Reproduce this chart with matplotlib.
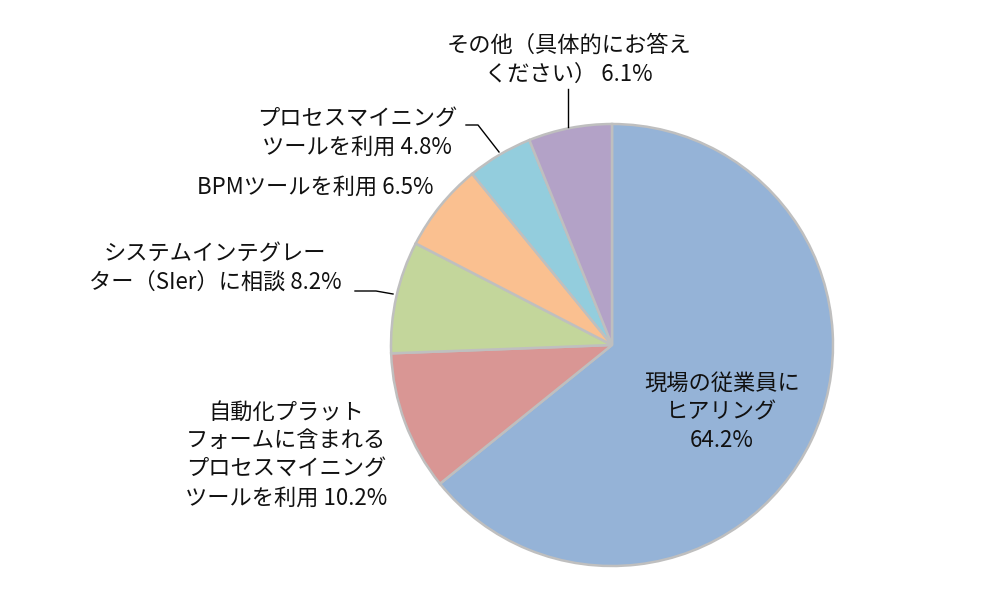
import matplotlib
matplotlib.use("Agg")
import matplotlib.pyplot as plt

plt.rcParams['font.family'] = ['Noto Sans CJK JP', 'DejaVu Sans']

labels = ["現場の従業員に\nヒアリング",
          "自動化プラット\nフォームに含まれる\nプロセスマイニング\nツールを利用",
          "システムインテグレー\nター（SIer）に相談",
          "BPMツールを利用",
          "プロセスマイニング\nツールを利用",
          "その他（具体的にお答え\nください）"]
values = [64.2, 10.2, 8.2, 6.5, 4.8, 6.1]
colors = ["#95B3D7", "#D99694", "#C3D69B", "#FAC090", "#93CDDD", "#B3A2C7"]

W, H = 1000, 603
fig = plt.figure(figsize=(10, 6.03), dpi=100)
ax = fig.add_axes([0, 0, 1, 1])

cx, cy, r = 612, H - 345, 221
ax.pie(values, colors=colors, startangle=90, counterclock=False,
       center=(cx, cy), radius=r, frame=True,
       wedgeprops=dict(edgecolor="#BFBFBF", linewidth=1.8))
ax.set_xlim(0, W)
ax.set_ylim(0, H)
ax.set_aspect('equal')
ax.axis('off')

def lab(i):
    return f"{labels[i]} {values[i]}%" if i else f"{labels[i]}\n{values[i]}%"

fs = 16
ls = 1.32
def y(p):
    return H - p

kw = dict(ha='center', va='center', fontsize=fs, linespacing=ls, color='#111111')
# Inside label
ax.text(722, y(412), lab(0), **kw)
# 10.2
ax.text(286, y(455), lab(1), **kw)
# 8.2
ax.text(215, y(268), lab(2), **kw)
ax.plot([355, 376, 393], [y(291), y(291), y(294)], color='black', lw=1)
# 6.5
ax.text(315, y(187), lab(3), **kw)
# 4.8
ax.text(357, y(133), lab(4), **kw)
ax.plot([466, 478, 499], [y(125), y(125), y(152)], color='black', lw=1)
# 6.1
ax.text(569, y(60), lab(5), **kw)
ax.plot([568, 568], [y(89), y(127)], color='black', lw=1)

fig.savefig("out.png", dpi=100)
